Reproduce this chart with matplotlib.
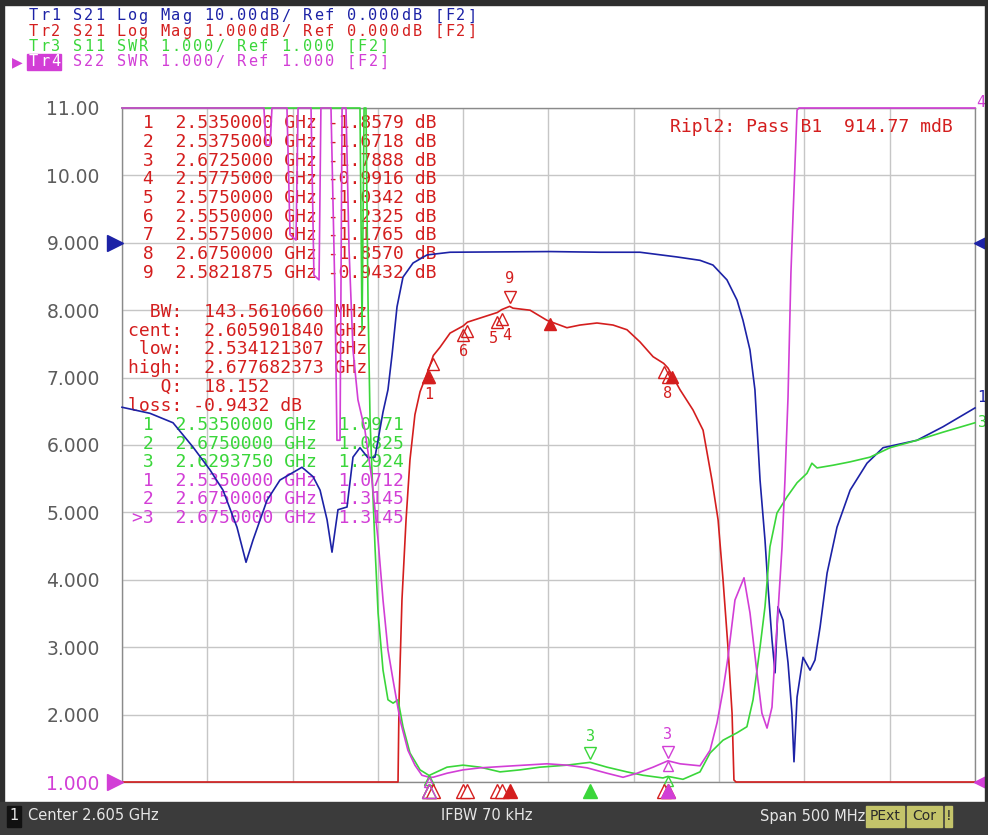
import numpy as np
import matplotlib.pyplot as plt
from matplotlib import transforms
from matplotlib.patches import Rectangle

W, H = 988, 835

# sweep
f_center = 2.605   # GHz
f_span = 0.5       # GHz
f_start = f_center - f_span / 2
f_stop = f_center + f_span / 2

# Tr1  S21 log mag, 10 dB/div
tr1_f = [2.3550, 2.3714, 2.3849, 2.3966, 2.4066, 2.4142, 2.4224, 2.4277, 2.4318, 2.4400,
         2.4476, 2.4605, 2.4670, 2.4711, 2.4752, 2.4781, 2.4816, 2.4869, 2.4904, 2.4945,
         2.4992, 2.5033, 2.5080, 2.5109, 2.5133, 2.5162, 2.5197, 2.5256, 2.5338, 2.5473,
         2.6059, 2.6352, 2.6586, 2.6803, 2.6938, 2.7014, 2.7096, 2.7155, 2.7190, 2.7231,
         2.7260, 2.7290, 2.7319, 2.7337, 2.7360, 2.7378, 2.7395, 2.7425, 2.7454, 2.7477,
         2.7489, 2.7507, 2.7542, 2.7583, 2.7612, 2.7642, 2.7683, 2.7741, 2.7818, 2.7917,
         2.8011, 2.8210, 2.8362, 2.8550]
tr1_db = [-24.4, -25.3, -26.7, -30.3, -33.7, -36.7, -42.2, -47.4, -44.1, -38.2,
          -35.2, -33.3, -34.7, -36.7, -41.1, -45.9, -39.6, -39.2, -31.8, -30.4,
          -31.9, -31.8, -25.1, -21.8, -16.6, -9.5, -5.1, -3.0, -1.8, -1.4,
          -1.3, -1.4, -1.4, -2.1, -2.6, -3.3, -5.5, -8.5, -11.5, -15.9,
          -21.8, -35.2, -44.1, -51.1, -58.9, -63.8, -54.0, -56.0, -62.3, -69.8,
          -77.0, -67.4, -61.5, -63.4, -61.9, -57.0, -49.0, -42.2, -36.7, -32.7,
          -30.4, -29.3, -27.3, -24.5]

# Tr2  S21 log mag, 1 dB/div
tr2_f = [2.3550, 2.5156, 2.5168, 2.5174, 2.5191, 2.5215, 2.5238, 2.5267, 2.5297, 2.5350,
         2.5375, 2.5414, 2.5473, 2.5550, 2.5575, 2.5750, 2.5775, 2.5822, 2.5842, 2.5942,
         2.6041, 2.6158, 2.6235, 2.6334, 2.6428, 2.6510, 2.6586, 2.6663, 2.6725, 2.6750,
         2.6821, 2.6897, 2.6956, 2.7008, 2.7044, 2.7073, 2.7102, 2.7126, 2.7137, 2.7149,
         2.8550]
tr2_db = [-30, -30, -9.0, -6.78, -5.30, -4.11, -3.22, -2.55, -2.21, -1.858,
          -1.672, -1.55, -1.34, -1.233, -1.177, -1.034, -0.992, -0.943, -0.97, -1.00,
          -1.15, -1.26, -1.22, -1.19, -1.22, -1.29, -1.47, -1.69, -1.789, -1.857,
          -2.18, -2.48, -2.78, -3.52, -4.11, -5.00, -6.00, -6.98, -7.97, -15,
          -30]

# Tr3  S11 SWR
tr3_f = [2.3550, 2.4945, 2.4957, 2.4969, 2.4980, 2.4992, 2.5004, 2.5015, 2.5033, 2.5051,
         2.5080, 2.5109, 2.5139, 2.5168, 2.5197, 2.5238, 2.5297, 2.5350, 2.5455, 2.5549,
         2.5649, 2.5766, 2.5883, 2.6000, 2.6158, 2.6294, 2.6393, 2.6510, 2.6604, 2.6721,
         2.6750, 2.6838, 2.6938, 2.6997, 2.7073, 2.7155, 2.7213, 2.7249, 2.7290, 2.7319,
         2.7348, 2.7389, 2.7448, 2.7507, 2.7565, 2.7594, 2.7624, 2.7718, 2.7818, 2.7935,
         2.8052, 2.8210, 2.8362, 2.8550]
tr3_swr = [12, 12, 7.71, 12, 12, 8.15, 6.37, 5.63, 4.49, 3.51,
           2.66, 2.22, 2.17, 2.22, 1.82, 1.43, 1.18, 1.097, 1.22, 1.25,
           1.22, 1.15, 1.18, 1.22, 1.25, 1.292, 1.22, 1.15, 1.10, 1.06,
           1.083, 1.04, 1.15, 1.43, 1.62, 1.73, 1.82, 2.22, 3.00, 3.60,
           4.49, 4.99, 5.23, 5.44, 5.58, 5.73, 5.66, 5.70, 5.75, 5.82,
           5.96, 6.07, 6.19, 6.33]

# Tr4  S22 SWR
tr4_f = [2.3550, 2.4382, 2.4394, 2.4418, 2.4429, 2.4517, 2.4535, 2.4570, 2.4582, 2.4658,
         2.4675, 2.4705, 2.4716, 2.4775, 2.4799, 2.4810, 2.4828, 2.4840, 2.4863, 2.4881,
         2.4904, 2.4933, 2.4974, 2.5015, 2.5051, 2.5080, 2.5109, 2.5139, 2.5180, 2.5226,
         2.5267, 2.5308, 2.5350, 2.5373, 2.5455, 2.5549, 2.5649, 2.5842, 2.6041, 2.6158,
         2.6276, 2.6393, 2.6487, 2.6569, 2.6663, 2.6750, 2.6821, 2.6938, 2.6997, 2.7038,
         2.7073, 2.7102, 2.7143, 2.7196, 2.7231, 2.7272, 2.7301, 2.7331, 2.7360, 2.7378,
         2.7395, 2.7419, 2.7436, 2.7454, 2.7471, 2.7483, 2.7507, 2.7518, 2.8550]
tr4_swr = [12, 12, 10.45, 10.45, 12, 12, 9.12, 9.04, 12, 12,
           8.52, 8.45, 12, 12, 8.15, 6.07, 6.07, 12, 12, 8.89,
           7.41, 6.67, 6.22, 5.48, 4.59, 3.70, 2.96, 2.51, 1.92, 1.47,
           1.25, 1.10, 1.071, 1.07, 1.13, 1.18, 1.21, 1.24, 1.27, 1.25,
           1.21, 1.13, 1.07, 1.13, 1.22, 1.3145, 1.27, 1.24, 1.47, 1.88,
           2.36, 2.85, 3.70, 4.03, 3.51, 2.62, 2.02, 1.80, 2.11, 2.91,
           3.51, 4.49, 5.48, 6.71, 8.55, 9.38, 10.97, 12, 12]

# markers
red_mk_f = [2.5350000, 2.5375000, 2.6725000, 2.5775000, 2.5750000, 2.5550000, 2.5575000, 2.6750000, 2.5821875]
red_mk_db = [-1.8579, -1.6718, -1.7888, -0.9916, -1.0342, -1.2325, -1.1765, -1.8570, -0.9432]
grn_mk_f = [2.5350000, 2.6750000, 2.6293750]
grn_mk_swr = [1.0971, 1.0825, 1.2924]
mag_mk_f = [2.5350000, 2.6750000, 2.6750000]
mag_mk_swr = [1.0712, 1.3145, 1.3145]

bw_mhz = 143.5610660
bw_cent = 2.605901840
bw_low = 2.534121307
bw_high = 2.677682373
bw_q = 18.152
bw_loss = -0.9432
ripple_mdb = 914.77

ylabels = ['1.000', '2.000', '3.000', '4.000', '5.000', '6.000', '7.000', '8.000', '9.000', '10.00', '11.00']
REF_POS = 9   # grid line of the S21 reference

BLUE = '#1c22a6'
RED = '#d41e1e'
GREEN = '#3ad63a'
MAG = '#d23ed6'
GRID = '#c6c6c6'
MONO = 'DejaVu Sans Mono'


def db_disp(db, per_div):
    return np.clip(REF_POS + np.asarray(db, float) / per_div, 1, 11)


def swr_disp(v):
    return np.clip(np.asarray(v, float), 1, 11)


def P(x, y):
    return x / W, 1 - y / H


fig = plt.figure(figsize=(W / 100, H / 100), dpi=100)
fig.patch.set_facecolor('white')

ax = fig.add_axes([122 / W, 1 - 782 / H, 853 / W, 674 / H])
ax.set_xlim(f_start, f_stop)
ax.set_ylim(1, 11)
ax.set_xticks(np.linspace(f_start, f_stop, 11))
ax.set_yticks(np.arange(1, 12))
ax.set_yticklabels(ylabels)
ax.tick_params(axis='x', length=0, labelbottom=False)
ax.tick_params(axis='y', length=0, pad=16, labelsize=13.5, labelcolor='#5c5c5c')
ax.get_yticklabels()[0].set_color(MAG)
ax.grid(True, color=GRID, lw=1)
ax.set_axisbelow(True)
for s in ax.spines.values():
    s.set_color('#8a8a8a')
    s.set_linewidth(1)


def shifted(dy):
    return ax.transData + transforms.ScaledTranslation(0, dy / 100, fig.dpi_scale_trans)


# ---- text blocks inside the grid (under traces)
def ftext(x, y, s, color, size=13, **kw):
    ax.text(x / W, 1 - y / H, s, transform=fig.transFigure, color=color, fontsize=size,
            family=MONO, va='center', ha='left', zorder=1, **kw)


for k in range(len(red_mk_f)):
    ftext(132, 123 + k * 18.75, f"{k + 1:>2}  {red_mk_f[k]:.7f} GHz {red_mk_db[k]:.4f} dB", RED)

stats = [("BW:", f"{bw_mhz:.7f} MHz"), ("cent:", f"{bw_cent:.9f} GHz"),
         ("low:", f"{bw_low:.9f} GHz"), ("high:", f"{bw_high:.9f} GHz"),
         ("Q:", f"{bw_q:.3f}"), ("loss:", f"{bw_loss:.4f} dB")]
for k, (lab, val) in enumerate(stats):
    sep = ' ' if val.startswith('-') else '  '
    ftext(128, 312 + k * 18.7, f"{lab:>5}{sep}{val}", RED)

rows = [(str(i + 1), grn_mk_f[i], grn_mk_swr[i], GREEN) for i in range(3)]
rows += [(('>' if i == 2 else '') + str(i + 1), mag_mk_f[i], mag_mk_swr[i], MAG) for i in range(3)]
for k, (lab, f, v, c) in enumerate(rows):
    ftext(132, 425 + k * 18.6, f"{lab:>2}  {f:.7f} GHz  {v:.4f}", c)

ftext(670, 127, f"Ripl2: Pass B1  {ripple_mdb:.2f} mdB", RED)

# ---- traces
d1 = db_disp(tr1_db, 10)
d2 = db_disp(tr2_db, 1)
d3 = swr_disp(tr3_swr)
d4 = swr_disp(tr4_swr)
ax.plot(tr1_f, d1, color=BLUE, lw=1.2, zorder=3, clip_on=False)
ax.plot(tr2_f, d2, color=RED, lw=1.2, zorder=4, clip_on=False)
ax.plot(tr3_f, d3, color=GREEN, lw=1.2, zorder=5, clip_on=False)
ax.plot(tr4_f, d4, color=MAG, lw=1.2, zorder=6, clip_on=False)

# ---- markers on traces
red_y = db_disp(red_mk_db, 1)
for i in [1, 0, 6, 5, 2, 7, 4, 3]:
    ax.plot(red_mk_f[i], red_y[i], '^', ms=9, mfc='none', mec=RED, mew=1,
            transform=shifted(-9), zorder=7)
# only the numbers left readable in the crowded groups: 1, 6, 5 4, 8
for i, dx in [(0, 0), (5, 0), (4, -4), (3, 5), (7, 0)]:
    ax.annotate(str(i + 1), (red_mk_f[i], red_y[i]), xytext=(dx, -26), textcoords='offset pixels',
                ha='center', va='center', color=RED, fontsize=11, family=MONO, zorder=8)
ax.plot(red_mk_f[8], red_y[8], 'v', ms=9, mfc='none', mec=RED, mew=1, transform=shifted(9), zorder=7)
ax.annotate('9', (red_mk_f[8], red_y[8]), xytext=(0, 28), textcoords='offset pixels',
            ha='center', va='center', color=RED, fontsize=11, family=MONO, zorder=8)

bw_f = [bw_low, bw_cent, bw_high]
bw_y = [REF_POS + bw_loss - 1, float(np.interp(bw_cent, tr2_f, d2)), REF_POS + bw_loss - 1]
ax.plot(bw_f, bw_y, '^', ls='none', ms=9, color=RED, transform=shifted(-3), zorder=7)

for fs, vs, c in [(grn_mk_f, grn_mk_swr, GREEN), (mag_mk_f, mag_mk_swr, MAG)]:
    yv = swr_disp(vs)
    ax.plot(fs[:2], yv[:2], '^', ls='none', ms=7, mfc='none', mec=c, mew=1,
            transform=shifted(-5), zorder=7, clip_on=False)
    ax.plot(fs[2], yv[2], 'v', ms=9, mfc='none', mec=c, mew=1, transform=shifted(9), zorder=7)
    ax.annotate('3', (fs[2], yv[2]), xytext=(0, 26), textcoords='offset pixels',
                ha='center', va='center', color=c, fontsize=11, family=MONO, zorder=8)

# ---- marker position triangles under the grid
bt = transforms.blended_transform_factory(ax.transData, ax.transAxes) + \
    transforms.ScaledTranslation(0, -9 / 100, fig.dpi_scale_trans)
for i in [0, 1, 5, 6, 4, 3, 2, 7]:
    ax.plot(red_mk_f[i], 0, '^', ms=10, mfc='white', mec=RED, mew=1, transform=bt, clip_on=False, zorder=9)
ax.plot(red_mk_f[8], 0, '^', ms=10, color=RED, transform=bt, clip_on=False, zorder=9)
ax.plot(grn_mk_f[0], 0, '^', ms=10, mfc='none', mec=GREEN, mew=1, transform=bt, clip_on=False, zorder=9)
ax.plot(mag_mk_f[0], 0, '^', ms=10, mfc='none', mec=MAG, mew=1, transform=bt, clip_on=False, zorder=9)
ax.plot(grn_mk_f[2], 0, '^', ms=10, color=GREEN, transform=bt, clip_on=False, zorder=9)
ax.plot(mag_mk_f[2], 0, '^', ms=10, color=MAG, transform=bt, clip_on=False, zorder=9)

# ---- reference position arrows
lt = transforms.blended_transform_factory(ax.transAxes, ax.transData)
for x, mk, dx in [(0, '>', -7), (1, '<', 7)]:
    tr = lt + transforms.ScaledTranslation(dx / 100, 0, fig.dpi_scale_trans)
    ax.plot(x, REF_POS, mk, ms=11, color=BLUE, transform=tr, clip_on=False, zorder=9)
    ax.plot(x, 1, mk, ms=11, color=MAG, transform=tr, clip_on=False, zorder=9)

# trace numbers at the right edge
ax.annotate('1', (tr1_f[-1], d1[-1]), xytext=(7, 3), textcoords='offset pixels', color=BLUE,
            fontsize=11, family=MONO, ha='center', va='bottom', annotation_clip=False)
ax.annotate('3', (tr3_f[-1], d3[-1]), xytext=(8, 0), textcoords='offset pixels', color=GREEN,
            fontsize=11, family=MONO, ha='center', va='center', annotation_clip=False)
ax.annotate('4', (tr4_f[-1], d4[-1]), xytext=(6, 5), textcoords='offset pixels', color=MAG,
            fontsize=11, family=MONO, ha='center', va='center', annotation_clip=False)


# ---- header: the analyzer font is wide, so lay the characters out on an 11 px pitch
def wide_text(x, y, s, color, pitch=10.95, size=11, **kw):
    for j, ch in enumerate(s):
        if ch != ' ':
            fig.text(*P(x + j * pitch, y), ch, color=color, fontsize=size, family=MONO,
                     ha='left', va='center', **kw)


header = [("Tr1 S21 Log Mag 10.00dB/ Ref 0.000dB [F2]", BLUE),
          ("Tr2 S21 Log Mag 1.000dB/ Ref 0.000dB [F2]", RED),
          ("Tr3 S11 SWR 1.000/ Ref 1.000 [F2]", GREEN)]
for k, (s, c) in enumerate(header):
    wide_text(29, 16 + k * 15.3, s, c)
fig.patches.append(Rectangle(P(27, 70), 34 / W, 16 / H, transform=fig.transFigure, color=MAG))
wide_text(29, 62, "Tr4", 'white')
wide_text(29, 62, "    S22 SWR 1.000/ Ref 1.000 [F2]", MAG)
fig.text(*P(12, 62), "\u25B6", color=MAG, fontsize=10, va='center')

# ---- frame and status bar
fig.patches.append(Rectangle(P(0, 5), 1, 5 / H, transform=fig.transFigure, color='#2e2e2e'))
fig.patches.append(Rectangle(P(0, 835), 4 / W, 1, transform=fig.transFigure, color='#2e2e2e'))
fig.patches.append(Rectangle(P(985, 835), 3 / W, 1, transform=fig.transFigure, color='#2e2e2e'))
fig.patches.append(Rectangle(P(0, 835), 1, 33 / H, transform=fig.transFigure, color='#3b3b3b'))
fig.patches.append(Rectangle(P(7, 827), 14 / W, 21 / H, transform=fig.transFigure, color='#111111'))
fig.text(*P(14, 816), "1", color='#e6e6e6', fontsize=10.5, ha='center', va='center')
fig.text(*P(28, 816), f"Center {f_center:.3f} GHz", color='#e6e6e6', fontsize=10.5, va='center')
fig.text(*P(441, 816), "IFBW 70 kHz", color='#e6e6e6', fontsize=10.5, va='center')
fig.text(*P(760, 816), f"Span {f_span * 1000:.0f} MHz", color='#e6e6e6', fontsize=10.5, va='center')
for x0, x1, s in [(866, 904, "PExt"), (907, 942, "Cor"), (945, 952, "!")]:
    fig.patches.append(Rectangle(P(x0, 827), (x1 - x0) / W, 21 / H, transform=fig.transFigure,
                                 color='#c4c46a'))
    fig.text(*P((x0 + x1) / 2, 816), s, color='#2a2a2a', fontsize=10, ha='center', va='center')

fig.savefig('out.png', dpi=100)
